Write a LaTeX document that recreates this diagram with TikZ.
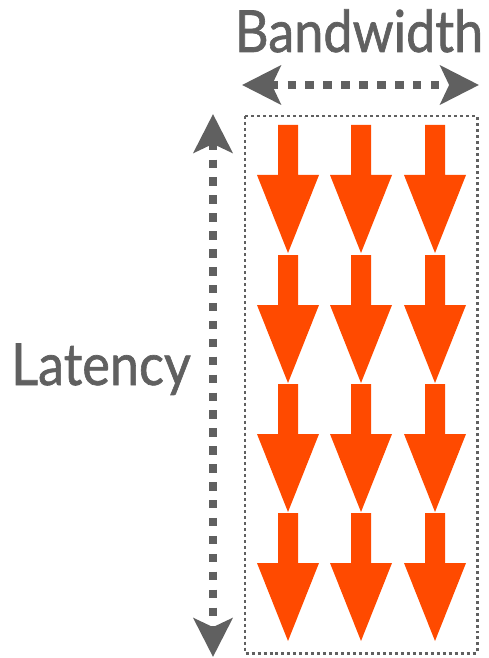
\documentclass[tikz,border=0pt]{standalone}
\usepackage{fontspec}
\newfontfamily\dimfont{Lato}[BoldFont=Lato, BoldFeatures={FakeBold=1.2}]
\usetikzlibrary{arrows.meta}

\definecolor{dimgrey}{HTML}{606060}
\definecolor{flowred}{HTML}{FF4A00}

\newcommand{\dimtext}[1]{\scalebox{0.9}[1]{#1}}

\tikzset{
  dimarrow/.style={dimgrey, line width=4.8pt, dash pattern=on 4.8pt off 5.4pt,
    {Stealth[length=22pt,width=22pt,inset=5pt]}-{Stealth[length=22pt,width=22pt,inset=5pt]}},
  dimlabel/.style={dimgrey, font=\dimfont\bfseries\fontsize{33}{33}\selectfont, inner sep=0pt, anchor=base},
  channel/.style={dimgrey, line width=1.7pt, dash pattern=on 1.7pt off 1.7pt}
}

\begin{document}
\begin{tikzpicture}[x=0.02cm, y=-0.02cm]
    \useasboundingbox (0,0) rectangle (488,658);
    % labels
    \node [dimlabel] (bw) at (359,52) {\dimtext{Bandwidth}};
    \node [dimlabel] (lat) at (101,385) {\dimtext{Latency}};
    % dimension arrows
    \coordinate (bwl) at (242,85);
    \coordinate (bwr) at (479,85);
    \coordinate (latt) at (213,114);
    \coordinate (latb) at (213,657);
    \draw [dimarrow] (bwl) -- (bwr);
    \draw [dimarrow] (latt) -- (latb);
    % the pipe
    \coordinate (pipenw) at (245,116);
    \coordinate (pipese) at (477,653);
    \draw [channel] (pipenw) rectangle (pipese);
    % requests in flight, 3 wide and 4 deep
    \foreach \x in {288,361,435}
      \foreach \y in {125,255,384,513}
        \fill [flowred] (\x-10,\y) -- (\x+10,\y) -- (\x+10,\y+50) -- (\x+31,\y+50)
          -- (\x,\y+128) -- (\x-31,\y+50) -- (\x-10,\y+50) -- cycle;
\end{tikzpicture}
\end{document}
